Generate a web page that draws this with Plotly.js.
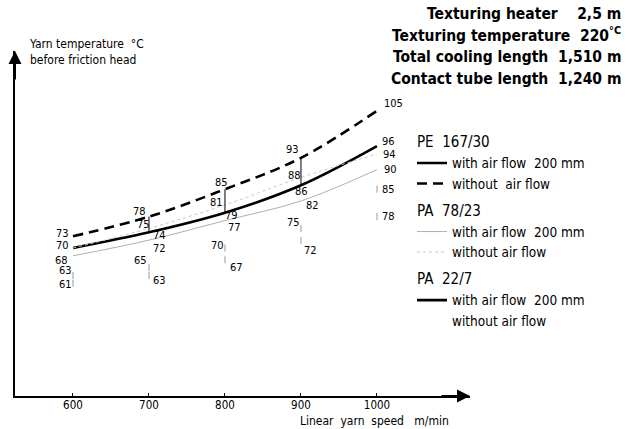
<!DOCTYPE html>
<html>
<head>
<meta charset="utf-8">
<script src="https://cdn.plot.ly/plotly-3.0.1.min.js"></script>
<style>html,body{margin:0;padding:0;background:#fff;}#chart{width:631px;height:429px;}</style>
</head>
<body>
<div id="chart"></div>
<script>
// ---- data ----
var speeds = [600, 700, 800, 900, 1000];            // linear yarn speed, m/min
var peWithout   = [73, 78, 85, 93, 105];              // PE 167/30 without air flow
var peWith      = [70, 74, 79, 86, 96];               // PE 167/30 with air flow 200 mm
var pa78Without = [70, 75, 81, 88, 94];               // PA 78/23 without air flow
var pa78With    = [68, 72, 77, 82, 90];               // PA 78/23 with air flow 200 mm
var pa22Without = [63, 65, 70, 75, 85];               // PA 22/7 without air flow
var pa22With    = [61, 63, 67, 72, 78];               // PA 22/7 with air flow 200 mm
var tickLabels  = ['600', '700', '800', '900', '1000'];

var FONT = 'DejaVu Sans Condensed, DejaVu Sans, sans-serif';
var SP = '\u00a0';

var traces = [
  {x: speeds, y: peWith, mode: 'lines', name: 'with' + SP + 'air' + SP + 'flow' + SP + SP + '200 mm',
   legendgroup: 'pe', legendgrouptitle: {text: 'PE' + SP + SP + '167/30'},
   line: {color: '#000', width: 2.6, shape: 'spline'}},
  {x: speeds, y: peWithout, mode: 'lines', name: 'without' + SP + SP + 'air' + SP + 'flow',
   legendgroup: 'pe',
   line: {color: '#000', width: 2.6, dash: '10px,6px', shape: 'spline'}},
  {x: speeds, y: pa78With, mode: 'lines', name: 'with' + SP + 'air' + SP + 'flow' + SP + SP + '200 mm',
   legendgroup: 'pa78', legendgrouptitle: {text: 'PA' + SP + SP + '78/23'},
   line: {color: '#b0b0b0', width: 1, shape: 'spline'}},
  {x: speeds, y: pa78Without, mode: 'lines', name: 'without' + SP + 'air' + SP + 'flow',
   legendgroup: 'pa78',
   line: {color: '#c8c8c8', width: 1, dash: '3px,3px', shape: 'spline'}},
  {x: speeds, y: pa22With, mode: 'markers', showlegend: false,
   marker: {symbol: 'line-ns-open', size: 5, color: '#999', line: {width: 1, color: '#999'}}},
  {x: speeds, y: pa22Without, mode: 'markers', showlegend: false,
   marker: {symbol: 'line-ns-open', size: 5, color: '#999', line: {width: 1, color: '#999'}}},
  // legend entries for PA 22/7
  {x: [null], y: [null], mode: 'lines', name: 'with' + SP + 'air' + SP + 'flow' + SP + SP + '200 mm',
   legendgroup: 'pa22', legendgrouptitle: {text: 'PA' + SP + SP + '22/7'},
   line: {color: '#000', width: 2.6}},
  {x: [null], y: [null], mode: 'lines', name: 'without' + SP + 'air' + SP + 'flow',
   legendgroup: 'pa22', line: {color: 'rgba(0,0,0,0)', width: 1}}
];

// vertical bars between PE without and PE with air flow
var bx = [], by = [];
for (var i = 1; i <= 3; i++) { bx.push(speeds[i], speeds[i], null); by.push(peWithout[i], peWith[i], null); }
traces.push({x: bx, y: by, mode: 'lines', showlegend: false, line: {color: '#000', width: 1}});

// value labels (placement offsets in px)
var labelSeries = [
  {v: peWithout,   off: [['right',-2,3],['right',-1,5],['center',-3,7],['right',0,8],['left',5,7]]},
  {v: peWith,      off: [['right',-2,3],['left',2,-3],['left',-2,-3],['center',1,-6],['left',3,5]]},
  {v: pa78Without, off: [null,['right',3,4],['right',0,2],['right',2,2],['left',4,-1]]},
  {v: pa78With,    off: [['right',-3,-5],['left',2,-8],['left',1,-7],['left',3,-5],['left',5,0]]},
  {v: pa22Without, off: [['right',1,5],['right',0,7],['right',1,3],['right',1,6],['left',3,0]]},
  {v: pa22With,    off: [['right',1,-1],['left',2,-5],['left',3,-8],['left',1,-10],['left',3,0]]}
];
var annotations = [];
labelSeries.forEach(function (s) {
  s.v.forEach(function (val, j) {
    var o = s.off[j];
    if (!o) return;
    annotations.push({x: speeds[j], y: val, xref: 'x', yref: 'y', text: String(val),
      showarrow: false, xanchor: o[0], yanchor: 'middle', xshift: o[1], yshift: o[2],
      font: {family: FONT, size: 11, color: '#000'}});
  });
});

// axis arrows
annotations.push({xref: 'paper', yref: 'paper', x: 1, y: 0, ax: -30, ay: 0, text: '',
  showarrow: true, arrowhead: 2, arrowsize: 1.3, arrowwidth: 2, arrowcolor: '#000'});
annotations.push({xref: 'paper', yref: 'paper', x: 0, y: 1, ax: 0, ay: 30, text: '',
  showarrow: true, arrowhead: 2, arrowsize: 1.3, arrowwidth: 2, arrowcolor: '#000'});

// axis titles
annotations.push({xref: 'paper', yref: 'paper', x: 0.79, y: -0.073, text: 'Linear' + SP + SP + 'yarn' + SP + SP + 'speed' + SP + SP + SP + 'm/min',
  showarrow: false, xanchor: 'center', yanchor: 'middle', font: {family: FONT, size: 12, color: '#000'}});
annotations.push({xref: 'paper', yref: 'paper', x: 0.027, y: 1.045, text: 'Yarn temperature' + SP + SP + '°C<br>before friction head',
  showarrow: false, xanchor: 'left', yanchor: 'top', align: 'left', font: {family: FONT, size: 12, color: '#000'}});

// heading block
var heads = ['Texturing heater' + SP + SP + SP + ' 2,5 m', 'Texturing temperature' + SP + ' 220<sup>°C</sup>',
             'Total cooling length' + SP + ' 1,510 m', 'Contact tube length' + SP + ' 1,240 m'];
var headY = [14, 35, 57, 79];
heads.forEach(function (t, k) {
  annotations.push({xref: 'paper', yref: 'paper', x: (623 - 15) / 455, y: 1 + (51 - headY[k]) / 345,
    text: '<b>' + t + '</b>', showarrow: false, xanchor: 'right', yanchor: 'middle',
    font: {family: FONT, size: 15.5, color: '#000'}});
});

var layout = {
  width: 631, height: 429,
  margin: {l: 15, r: 161, t: 51, b: 33, pad: 0},
  paper_bgcolor: '#fff', plot_bgcolor: '#fff',
  font: {family: FONT, color: '#000'},
  xaxis: {range: [523.7, 1122.4], tickvals: speeds, ticktext: tickLabels, showgrid: false, zeroline: false,
          showline: true, linewidth: 2, linecolor: '#000', ticks: 'inside', ticklen: 3, tickcolor: '#000',
          ticklabelstandoff: -3, tickfont: {family: FONT, size: 11.5, color: '#000'}},
  yaxis: {range: [32.24, 120.26], showgrid: false, zeroline: false, showticklabels: false,
          showline: true, linewidth: 2, linecolor: '#000', ticks: ''},
  showlegend: true,
  legend: {x: 0.8725, y: 0.785, xanchor: 'left', yanchor: 'top', traceorder: 'grouped',
           tracegroupgap: 5, itemwidth: 30, bgcolor: 'rgba(0,0,0,0)',
           font: {family: FONT, size: 13.5, color: '#000'},
           grouptitlefont: {family: FONT, size: 15, color: '#000'}},
  annotations: annotations
};

Plotly.newPlot('chart', traces, layout, {displayModeBar: false, staticPlot: true});
</script>
</body>
</html>
